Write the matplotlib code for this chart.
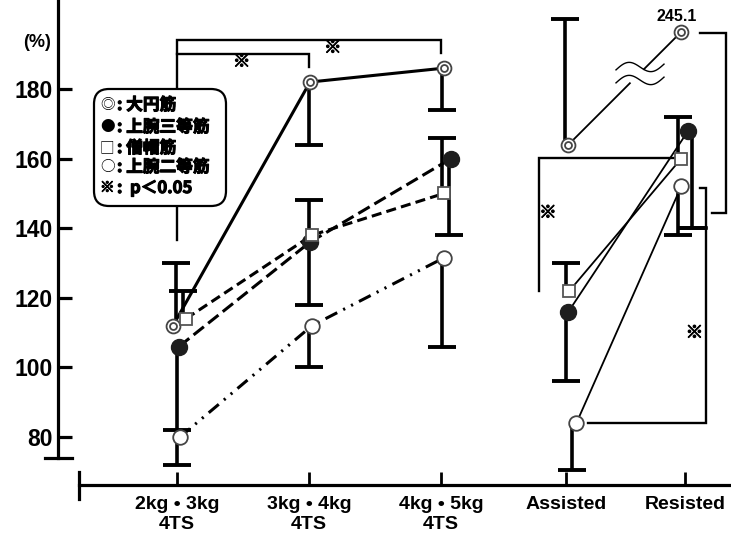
import numpy as np
import matplotlib
matplotlib.use("Agg")
import matplotlib.pyplot as plt
import matplotlib.patheffects as pe
from matplotlib.patches import FancyBboxPatch
from matplotlib.transforms import IdentityTransform

plt.rcParams['font.family'] = ['Liberation Sans', 'Noto Sans CJK JP', 'DejaVu Sans']
plt.rcParams['font.weight'] = 'bold'
CJK = ['Noto Sans CJK JP', 'DejaVu Sans']
BOLD = [pe.withStroke(linewidth=0.8, foreground='black')]

# --- data ---
categories = ['2kg • 3kg\n4TS', '3kg • 4kg\n4TS', '4kg • 5kg\n4TS', 'Assisted', 'Resisted']
yticks = [80, 100, 120, 140, 160, 180]

teres = [112, 182, 186, 164, 245.1]        # 大円筋
teres_end = [130, 164, 174, 200, None]     # end of the (one-sided) SD bar
triceps = [106, 136, 160, 116, 168]        # 上腕三等筋
triceps_end = [82, 118, 138, 96, 140]
trap = [114, 138, 150, 122, 160]           # 僧帽筋
trap_end = [122, 148, 166, 130, 172]
biceps = [80, 112, 131.5, 84, 152]         # 上腕二等筋
biceps_end = [72, 100, 106, 70.5, 138]

legend_symbols = ['◎', '●', '□', '○', '※']
legend_labels = [': 大円筋', ': 上腕三等筋', ': 僧帽筋', ': 上腕二等筋', ':  p＜0.05']

# layout
xpos = np.array([0, 1, 2, 2.95, 3.85])
PX = 132.0  # pixels per category unit
BREAK_AT, BREAK_SHIFT = 200, 48.7

def disp(v):
    return v - BREAK_SHIFT if v > BREAK_AT else v

series = [
    # values, bar ends, marker dodge(px), bar dodge(px), marker kind, line style
    (teres, teres_end, [-4, 1, 3, 2, -4], [-1, 0, 1, -1, 0], 'double', '-', None),
    (triceps, triceps_end, [2, 1, 10, 2, 3], [0, 0, 8, 0, 7], 'filled', '--', (4.3, 1.8)),
    (trap, trap_end, [9, 3, 3, 3, -4], [6, 0, 1, 0, -7], 'square', '--', (3.3, 1.7)),
    (biceps, biceps_end, [3, 3, 3, 10, -4], [0, 0, 1, 6, -7], 'open', '-.', (4.3, 2.2, 0.7, 2.2, 0.7, 2.2)),
]

fig = plt.figure(figsize=(7.31, 5.37), dpi=100)
ax = fig.add_axes([0, 0, 1, 1])
ax.set_xlim(-177 / PX, (731 - 177) / PX)
ax.set_ylim(180 - (537 - 89) / 3.48, 180 + 89 / 3.48)
ax.patch.set_visible(False)

def draw_marker(x, y, kind):
    if kind == 'double':
        ax.plot(x, y, 'o', ms=10, mfc='white', mec='#444', mew=1.3, zorder=6)
        ax.plot(x, y, 'o', ms=5, mfc='white', mec='#444', mew=1.3, zorder=7)
    elif kind == 'filled':
        ax.plot(x, y, 'o', ms=11.5, mfc='#1e1e1e', mec='#1e1e1e', zorder=6)
    elif kind == 'square':
        ax.plot(x, y, 's', ms=8.5, mfc='white', mec='#555', mew=1.3, zorder=6)
    else:
        ax.plot(x, y, 'o', ms=10.5, mfc='white', mec='#444', mew=1.3, zorder=6)

for vals, ends, mdodge, bdodge, kind, ls, dashes in series:
    mx = xpos + np.array(mdodge) / PX
    bx = xpos + np.array(bdodge) / PX
    yv = [disp(v) for v in vals]
    # SD bars
    for i, e in enumerate(ends):
        if e is None:
            continue
        ax.plot([bx[i], bx[i]], [vals[i], e], color='black', lw=2.6, zorder=3,
                solid_capstyle='butt')
        ax.plot(bx[i], e, marker='_', ms=19.5, mew=2.8, color='black', zorder=3)
    # training conditions
    line, = ax.plot(mx[:3], yv[:3], color='black', lw=2.2, ls=ls, zorder=4)
    if dashes is not None:
        line.set_dashes(dashes)
        line.set_dash_capstyle('butt')
    # assisted -> resisted
    if kind == 'double':
        p0 = np.array([mx[3], yv[3]])
        p1 = np.array([mx[4], yv[4]])
        for t0, t1 in [(0, 0.545), (0.67, 1)]:
            a, b = p0 + t0 * (p1 - p0), p0 + t1 * (p1 - p0)
            ax.plot([a[0], b[0]], [a[1], b[1]], color='black', lw=1.3, zorder=4)
        ax.annotate(f'{vals[4]}', xy=(mx[4], yv[4]), xytext=(-3, 6),
                    textcoords='offset points', ha='center', va='bottom', fontsize=11.5)
    else:
        ax.plot(mx[3:], yv[3:], color='black', lw=1.3, zorder=4)
    for i in range(5):
        draw_marker(mx[i], yv[i], kind)

# axis break marks (wavy)
u = np.linspace(-24, 24, 60)
for cy in (67, 80):
    wx = (640 + u - 177) / PX
    wy_px = cy - 6 * np.sin(np.pi * (u + 24) / 24) - u * 0.12
    ax.plot(wx, 180 - (wy_px - 89) / 3.48, color='black', lw=1.0, zorder=5)

# significance brackets
sig_lines = [
    ([0, 0, 2.0, 2.0], [136.6, 194.1, 194.1, 190.3]),
    ([0, 1.0, 1.0], [190.1, 190.1, 186.3]),
    ([3.96, 4.16, 4.16, 4.05], [196.1, 196.1, 144.4, 144.4]),
    ([3.79, 2.74, 2.74], [160.2, 160.2, 122.0]),
    ([3.96, 4.01, 4.01, 3.11], [151.6, 151.6, 84.0, 84.0]),
]
for xs, ys in sig_lines:
    ax.plot(xs, ys, color='black', lw=1.7, zorder=2, solid_joinstyle='miter')
ax.plot([3.80, 4.01], [140.1, 140.1], color='black', lw=2.6, zorder=2)
for sx, sy in [(1.18, 191.8), (0.49, 187.8), (2.81, 144.4), (3.92, 109.9)]:
    ax.text(sx, sy, '※', family=CJK, fontsize=12.5, ha='center', va='center', zorder=5,
            path_effects=BOLD)

# axes
for s in ('top', 'right'):
    ax.spines[s].set_visible(False)
ax.spines['left'].set_position(('data', -0.90))
ax.spines['left'].set_bounds(74, 206)
ax.spines['left'].set_linewidth(2.3)
ax.spines['bottom'].set_position(('data', 66.2))
ax.spines['bottom'].set_bounds(-0.742, 4.3)
ax.spines['bottom'].set_linewidth(2.3)
ax.set_yticks(yticks)
ax.set_yticklabels([str(t) for t in yticks])
ax.tick_params(axis='y', direction='in', length=10, width=2.3, pad=4, labelsize=16.5)
ax.set_xticks(xpos)
ax.set_xticklabels(categories)
ax.tick_params(axis='x', direction='in', length=9.5, width=2.0, pad=8, labelsize=14)
ax.plot([-1.0, -0.795], [74, 74], color='black', lw=2.3, clip_on=False)
ax.plot([-0.742, -0.742], [69.9, 62.2], color='black', lw=2.3, clip_on=False)
ax.text(-1.06, 193.5, '(%)', fontsize=13, ha='center', va='center')

# legend box
H = 537
box = FancyBboxPatch((94, H - 206), 132, 117, boxstyle='round,pad=0,rounding_size=15',
                     transform=IdentityTransform(), facecolor='white', edgecolor='black',
                     lw=1.6, zorder=8)
fig.patches.append(box)
row_y = [105, 127, 148, 167, 188]
for sym, lab, py in zip(legend_symbols, legend_labels, row_y):
    fig.text(100 / 731, 1 - py / H, sym, family=CJK, fontsize=10.5, fontweight='normal',
             ha='left', va='center', zorder=9,
             path_effects=BOLD if sym == '※' else None)
    fig.text(117 / 731, 1 - py / H, lab, family=CJK, fontsize=12, fontweight='bold',
             ha='left', va='center', zorder=9, path_effects=BOLD)

fig.savefig('out.png', dpi=100)
